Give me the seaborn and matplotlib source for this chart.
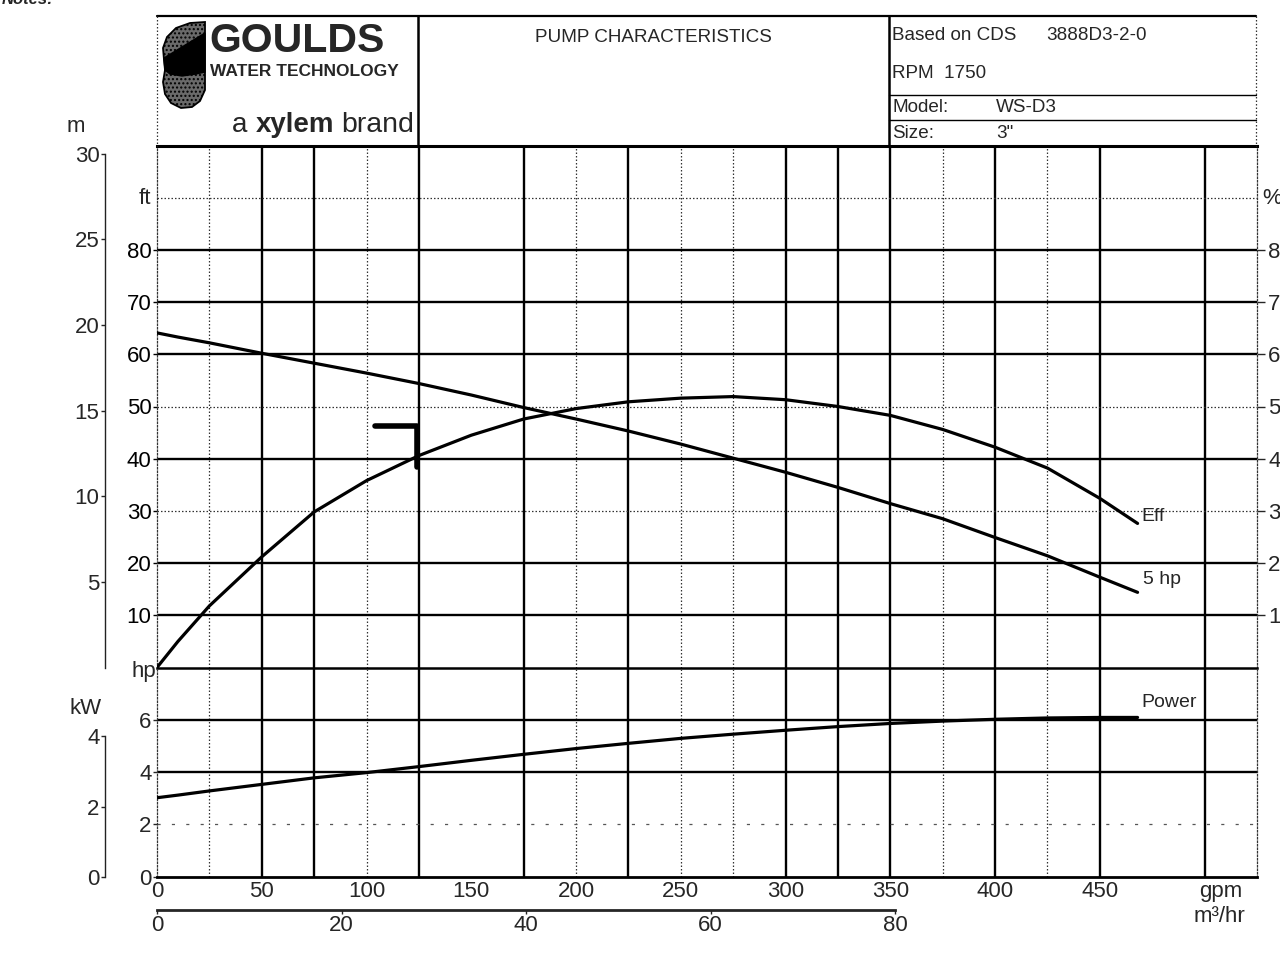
import matplotlib
matplotlib.use("Agg")
import matplotlib.pyplot as plt
import pandas as pd
import seaborn as sns
from matplotlib.patches import Polygon

# ---- pump curve data (WS-D3, 3", 1750 RPM) ----
flow_gpm = [0, 10, 25, 50, 75, 100, 125, 150, 175, 200, 225, 250, 275, 300,
            325, 350, 375, 400, 425, 450, 468]
head_ft = [64.1, 63.3, 62.2, 60.2, 58.3, 56.4, 54.4, 52.2, 49.8, 47.6, 45.3,
           42.8, 40.1, 37.4, 34.5, 31.4, 28.5, 24.9, 21.4, 17.3, 14.4]
eff_pct = [0.0, 5.0, 11.8, 21.2, 29.8, 35.8, 40.6, 44.5, 47.6, 49.6, 50.9,
           51.6, 51.9, 51.3, 50.0, 48.3, 45.6, 42.2, 38.2, 32.4, 27.6]
power_hp = [3.02, 3.12, 3.28, 3.53, 3.78, 3.98, 4.21, 4.45, 4.68, 4.90, 5.10,
            5.29, 5.45, 5.60, 5.74, 5.86, 5.95, 6.02, 6.07, 6.09, 6.09]

# duty-point bracket
duty_flow = [104, 124, 124]
duty_head = [46.3, 46.3, 38.5]

curve_labels = ["5 hp", "Eff", "Power"]

gpm_ticks = [0, 50, 100, 150, 200, 250, 300, 350, 400, 450]
m3h_ticks = [0, 20, 40, 60, 80]
ft_ticks = [10, 20, 30, 40, 50, 60, 70, 80]
pct_ticks = [10, 20, 30, 40, 50, 60, 70, 80]
m_ticks = [5, 10, 15, 20, 25, 30]
hp_ticks = [0, 2, 4, 6]
kw_ticks = [0, 2, 4]

# chart grid
vgrid_solid = [50, 75, 125, 175, 225, 300, 325, 350, 400, 450, 500]
vgrid_dotted = [25, 100, 200, 250, 275, 375, 425]
hgrid_head_solid = [10, 20, 40, 60, 70, 80]
hgrid_head_dotted = [30, 50, 90]
hgrid_pow_solid = [4, 6]
hgrid_pow_dotted = [2]

FT_PER_M = 3.28084
KW_PER_HP = 0.7457
M3H_PER_GPM = 0.2271247

sns.set_theme(style="white")
plt.rcParams["font.family"] = ["Liberation Sans", "DejaVu Sans"]

W, H = 1280, 959
fig = plt.figure(figsize=(W / 100, H / 100), dpi=100)
fig.patch.set_facecolor("white")


def frac_box(x0, y_top, x1, y_bot):
    return [x0 / W, (H - y_bot) / H, (x1 - x0) / W, (y_bot - y_top) / H]


ax_head = fig.add_axes(frac_box(157, 145.5, 1257, 667.5))
ax_pow = fig.add_axes(frac_box(157, 667.5, 1257, 876.7))

DOT = (0, (1.2, 1.6))
SPARSE = (0, (2.5, 9))
for ax in (ax_head, ax_pow):
    ax.set_facecolor("none")
    ax.set_xlim(0, 525)
    for v in vgrid_solid:
        ax.axvline(v, color="black", lw=1.7, zorder=1)
    for v in vgrid_dotted:
        ax.axvline(v, color="#333333", lw=0.9, ls=DOT, zorder=1)
    for side in ("left", "right"):
        ax.spines[side].set_linestyle(DOT)
        ax.spines[side].set_linewidth(0.9)
        ax.spines[side].set_color("#333333")

ax_head.set_ylim(0, 100)
ax_pow.set_ylim(0, 8)

for v in hgrid_head_solid:
    ax_head.axhline(v, color="black", lw=1.7, zorder=1)
for v in hgrid_head_dotted:
    ax_head.axhline(v, color="#333333", lw=0.9, ls=DOT, zorder=1)
for v in hgrid_pow_solid:
    ax_pow.axhline(v, color="black", lw=1.7, zorder=1)
for v in hgrid_pow_dotted:
    ax_pow.axhline(v, color="#555555", lw=0.9, ls=SPARSE, zorder=1)

ax_head.spines["top"].set_linewidth(2.2)
ax_head.spines["top"].set_color("black")
ax_head.spines["bottom"].set_linewidth(1.8)
ax_head.spines["bottom"].set_color("black")
ax_pow.spines["top"].set_visible(False)
ax_pow.spines["bottom"].set_linewidth(2.0)
ax_pow.spines["bottom"].set_color("black")

df = pd.DataFrame({"flow": flow_gpm, "head": head_ft, "eff": eff_pct,
                   "power": power_hp})
LW = 2.3
sns.lineplot(data=df, x="flow", y="head", ax=ax_head, color="black", lw=LW,
             sort=False, estimator=None, zorder=5)
sns.lineplot(data=df, x="flow", y="eff", ax=ax_head, color="black", lw=LW,
             sort=False, estimator=None, zorder=5)
sns.lineplot(data=df, x="flow", y="power", ax=ax_pow, color="black", lw=LW,
             sort=False, estimator=None, zorder=5)
sns.lineplot(x=duty_flow, y=duty_head, ax=ax_head, color="black", lw=4,
             sort=False, estimator=None, zorder=5)

LBL = 14
ax_head.annotate(curve_labels[0], (flow_gpm[-1], head_ft[-1]),
                 xytext=(4, 9), textcoords="offset points", fontsize=LBL,
                 va="center", ha="left")
ax_head.annotate(curve_labels[1], (flow_gpm[-1], eff_pct[-1]),
                 xytext=(3, 5), textcoords="offset points", fontsize=LBL,
                 va="center", ha="left")
ax_pow.annotate(curve_labels[2], (flow_gpm[-1], power_hp[-1]),
                xytext=(3, 11), textcoords="offset points", fontsize=LBL,
                va="center", ha="left")

for ax in (ax_head, ax_pow):
    ax.set_xlabel("")
    ax.set_ylabel("")

TICK_FS = 16
# head / efficiency axes
ax_head.set_xticks([])
ax_head.set_yticks(ft_ticks)
ax_head.tick_params(axis="y", left=True, length=3, width=1, pad=1,
                    labelsize=TICK_FS, colors="black")
pct = ax_head.secondary_yaxis("right")
pct.set_yticks(pct_ticks)
pct.tick_params(length=6, width=1, pad=2, labelsize=TICK_FS)
pct.spines["right"].set_visible(False)

m_ax = ax_head.secondary_yaxis(-52 / 1100, functions=(lambda f: f / FT_PER_M,
                                                       lambda m: m * FT_PER_M))
m_ax.set_yticks(m_ticks)
m_ax.spines["left"].set_bounds(0, 30)
m_ax.spines["left"].set_linewidth(1.0)
m_ax.spines["left"].set_color("#222222")
m_ax.tick_params(length=3, width=1, pad=1, labelsize=TICK_FS)

# power axes
ax_pow.set_yticks(hp_ticks)
ax_pow.tick_params(axis="y", left=True, length=3, width=1, pad=1,
                   labelsize=TICK_FS)
ax_pow.set_xticks(gpm_ticks)
ax_pow.tick_params(axis="x", bottom=True, length=0, pad=3,
                   labelsize=TICK_FS)

kw_ax = ax_pow.secondary_yaxis(-52 / 1100, functions=(lambda h: h * KW_PER_HP,
                                                       lambda k: k / KW_PER_HP))
kw_ax.set_yticks(kw_ticks)
kw_ax.spines["left"].set_bounds(0, 4)
kw_ax.spines["left"].set_linewidth(1.0)
kw_ax.spines["left"].set_color("#222222")
kw_ax.tick_params(length=3, width=1, pad=1, labelsize=TICK_FS)

m3h_ax = ax_pow.secondary_xaxis(-33 / 209, functions=(lambda q: q * M3H_PER_GPM,
                                                       lambda m: m / M3H_PER_GPM))
m3h_ax.set_xticks(m3h_ticks)
m3h_ax.spines["bottom"].set_bounds(0, 80)
m3h_ax.spines["bottom"].set_linewidth(2.0)
m3h_ax.tick_params(length=3, width=1, pad=1, labelsize=TICK_FS)

# ---- overlay in pixel coordinates: header block and unit labels ----
ov = fig.add_axes([0, 0, 1, 1])
ov.set_xlim(0, W)
ov.set_ylim(H, 0)
ov.axis("off")
ov.set_facecolor("none")

ov.plot([157, 1256], [16, 16], color="black", lw=1.6)
ov.plot([157, 157], [16, 146], color="#333333", lw=0.9, ls=DOT)
ov.plot([1256, 1256], [16, 146], color="#333333", lw=0.9, ls=DOT)
ov.plot([417.5, 417.5], [16, 146], color="black", lw=1.8)
ov.plot([889, 889], [16, 146], color="black", lw=1.8)
ov.plot([889, 1256], [95, 95], color="black", lw=1.0)
ov.plot([889, 1256], [120, 120], color="black", lw=1.0)

# logo mark: stippled leaf with a dark diagonal band
ov.add_patch(Polygon([(205, 22), (190, 23), (176, 28), (167, 37), (163, 48),
                      (164, 60), (165, 70), (163, 82), (165, 94), (171, 103),
                      (181, 108), (192, 107), (200, 101), (205, 90)],
                     closed=True, facecolor="#6a6a6a", edgecolor="black",
                     lw=1.3, hatch="....", zorder=3))
ov.add_patch(Polygon([(164, 58), (205, 33), (205, 72), (196, 74), (182, 76),
                      (170, 74), (165, 70)], closed=True, facecolor="black",
                     edgecolor="black", zorder=4))

ov.text(209, 41, "GOULDS", fontsize=29.5, fontweight="bold",
        ha="left", va="center")
ov.text(210, 72, "WATER TECHNOLOGY", fontsize=12.5, fontweight="bold",
        ha="left", va="center")
ov.text(232, 132, "a", fontsize=20, ha="left", va="baseline")
ov.text(256, 132, "xylem", fontsize=20, fontweight="bold", ha="left",
        va="baseline")
ov.text(414, 132, "brand", fontsize=20.5, ha="right", va="baseline")

HDR = 13.6
ov.text(535, 38, "PUMP CHARACTERISTICS", fontsize=HDR, ha="left", va="center")
ov.text(892, 36, "Based on CDS", fontsize=HDR, ha="left", va="center")
ov.text(1046, 36, "3888D3-2-0", fontsize=HDR, ha="left", va="center")
ov.text(892, 74, "RPM  1750", fontsize=HDR, ha="left", va="center")
ov.text(892, 108, "Model:", fontsize=HDR, ha="left", va="center")
ov.text(996, 108, "WS-D3", fontsize=HDR, ha="left", va="center")
ov.text(892, 133, "Size:", fontsize=HDR, ha="left", va="center")
ov.text(996, 133, '3"', fontsize=HDR, ha="left", va="center")

ov.text(2, 4, "Notes:", fontsize=12, fontweight="bold", style="italic",
        ha="left", va="baseline")

ov.text(76, 127, "m", fontsize=TICK_FS, ha="center", va="center")
ov.text(151, 198, "ft", fontsize=TICK_FS, ha="right", va="center")
ov.text(1262, 198, "%", fontsize=TICK_FS, ha="left", va="center")
ov.text(156, 671, "hp", fontsize=TICK_FS, ha="right", va="center")
ov.text(86, 709, "kW", fontsize=TICK_FS, ha="center", va="center")
ov.text(1221, 892, "gpm", fontsize=TICK_FS, ha="center", va="center")
ov.text(1219, 917, "m\u00b3/hr", fontsize=TICK_FS, ha="center", va="center")

fig.savefig("out.png", dpi=100)
